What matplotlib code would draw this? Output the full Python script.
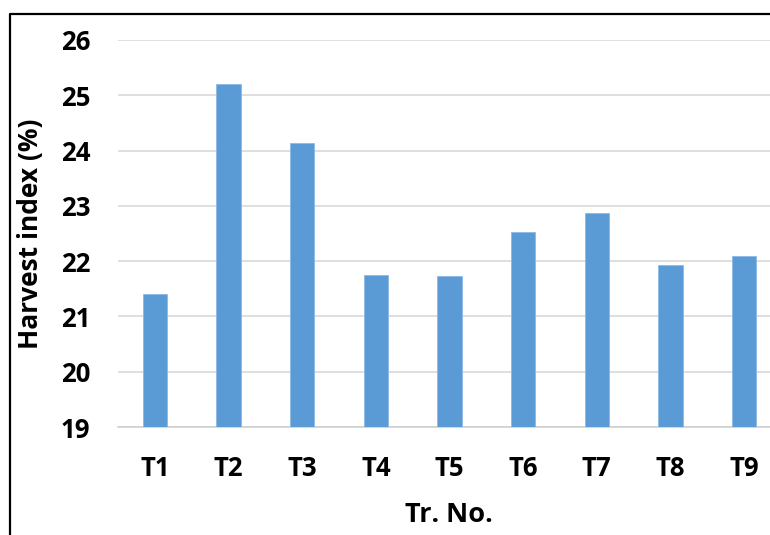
import matplotlib

matplotlib.use("Agg")
import matplotlib.pyplot as plt
from matplotlib.lines import Line2D

treatments = ["T1", "T2", "T3", "T4", "T5", "T6", "T7", "T8", "T9"]
harvest_index = [21.41, 25.20, 24.14, 21.75, 21.73, 22.53, 22.87, 21.93, 22.09]
y_ticks = [19, 20, 21, 22, 23, 24, 25, 26]

plt.rcParams["font.family"] = ["Open Sans", "DejaVu Sans"]

W, H = 770, 535
fig = plt.figure(figsize=(W / 100, H / 100), dpi=100)
ax = fig.add_axes([118 / W, 1 - 427 / H, (781 - 118) / W, (427 - 40) / H])

x = range(len(treatments))
ax.bar(x, harvest_index, width=0.33, color="#5B9BD5", edgecolor="#8DB8E6",
       linewidth=0.6, zorder=3)
ax.set_ylim(19, 26)
ax.set_xlim(-0.5, len(treatments) - 0.5)
ax.set_yticks(y_ticks)
ax.set_xticks(list(x))
ax.set_xticklabels(treatments)
ax.grid(axis="y", color="#D9D9D9", linewidth=1.2, zorder=0)
for s in ["top", "right", "left"]:
    ax.spines[s].set_visible(False)
ax.spines["bottom"].set_color("#D0D0D0")
ax.spines["bottom"].set_linewidth(1.2)
ax.tick_params(length=0, labelsize=18.5)
ax.tick_params(axis="y", pad=20)
ax.tick_params(axis="x", pad=20)
for lab in ax.get_xticklabels() + ax.get_yticklabels():
    lab.set_fontweight("bold")
ax.set_ylabel("Harvest index (%)", fontsize=19, fontweight="bold", va="center")
ax.set_xlabel("Tr. No.", fontsize=19.5, fontweight="bold", va="center")
ax.xaxis.set_label_coords((449 - 118) / (781 - 118), -(515 - 427) / (427 - 40))
ax.yaxis.set_label_coords(-(118 - 31) / (781 - 118), (427 - 234) / (427 - 40))

# outer frame (left and top edges)
fig.add_artist(Line2D([9.5 / W, 9.5 / W, 1], [0, 1 - 14 / H, 1 - 14 / H],
                      transform=fig.transFigure, color="black", linewidth=1.6))

fig.savefig("out.png", dpi=100)
plt.close(fig)
